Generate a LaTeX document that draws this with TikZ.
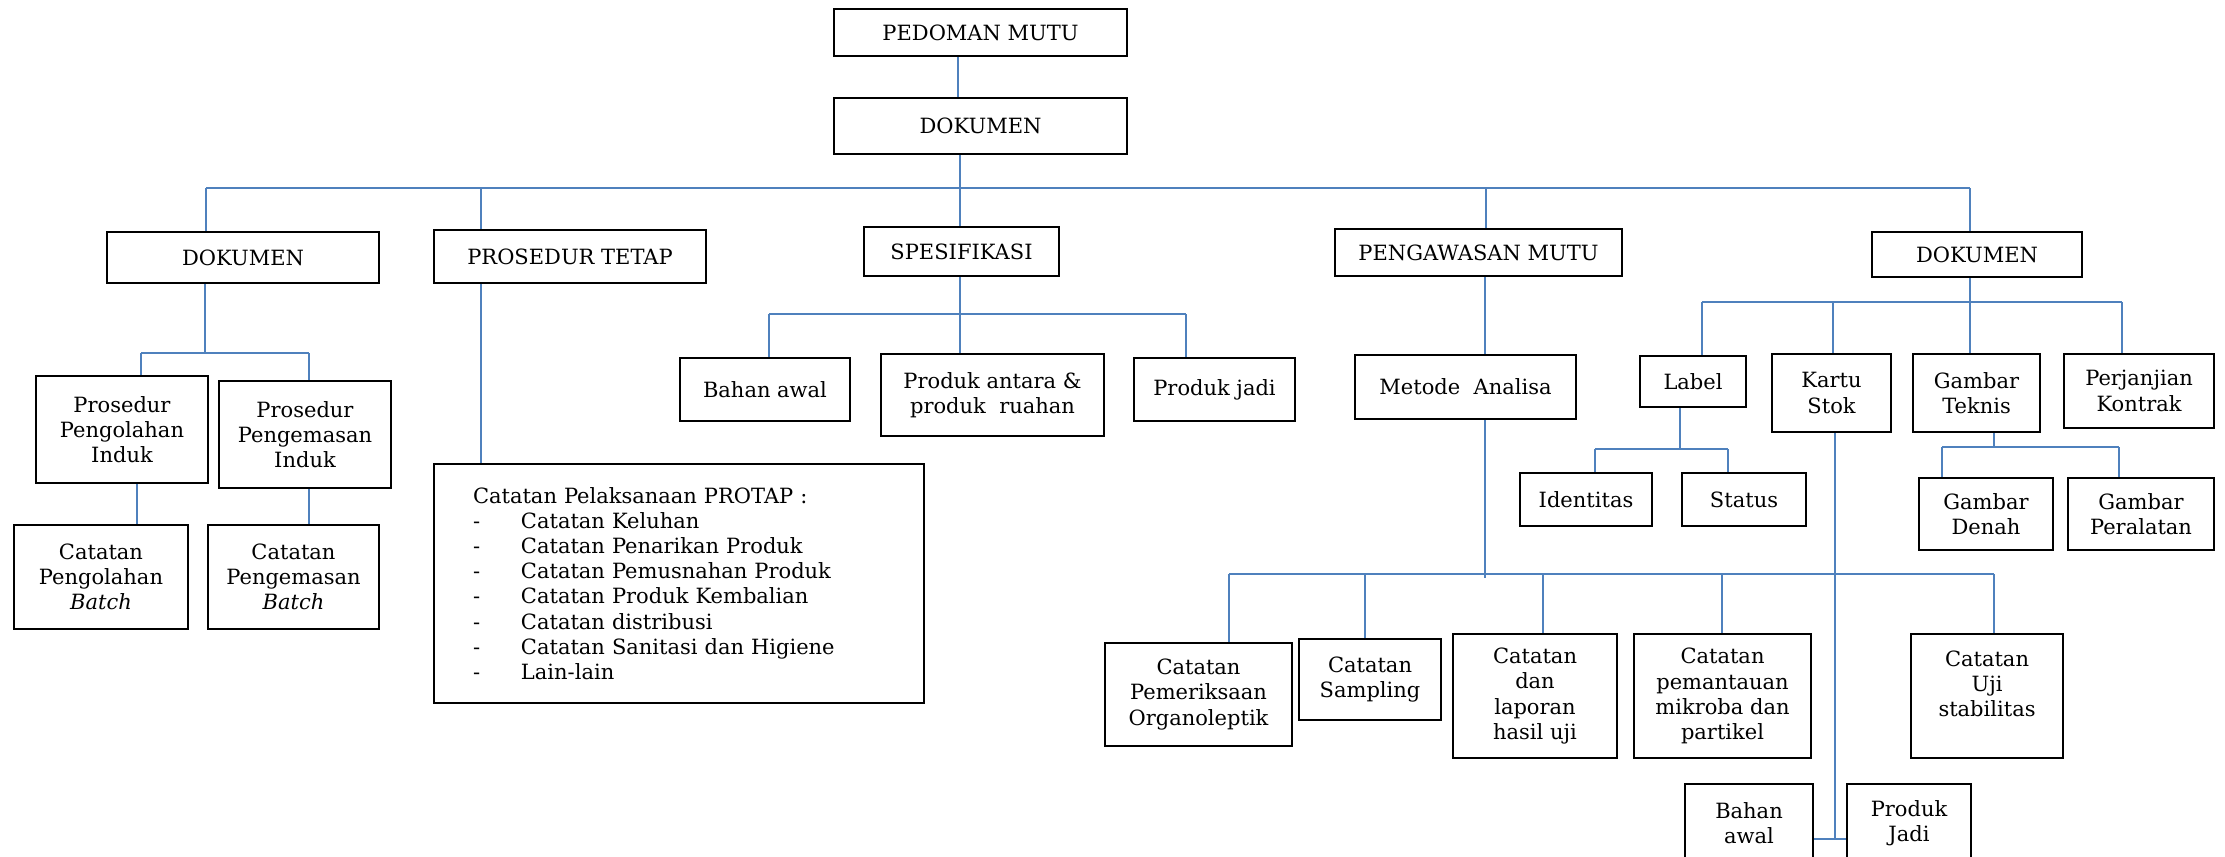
\documentclass[tikz,border=0pt]{standalone}
\usepackage{fontspec}
\setmainfont{DejaVu Serif}
\definecolor{lineblue}{RGB}{79,129,189}

\begin{document}
\begin{tikzpicture}[x=0.5pt,y=-0.5pt,
    box/.style={draw, line width=1.2pt, align=center, inner sep=2pt, font=\fontsize{10.5pt}{12.6pt}\selectfont},
    conn/.style={draw=lineblue, line width=0.9pt},
    bus/.style={draw=lineblue, line width=1.4pt}]
    \useasboundingbox (0,0) rectangle (2225,856);
    \clip (0,0) rectangle (2225,856);

    % top
    \node[box, minimum width=146.5pt, minimum height=23.5pt] (pedoman) at (980.5,32.5) {PEDOMAN MUTU};
    \node[box, minimum width=146.5pt, minimum height=28pt] (dokumen) at (980.5,126) {DOKUMEN};

    % second level
    \node[box, minimum width=136pt, minimum height=25.5pt] (dokA) at (243,257.5) {DOKUMEN};
    \node[box, minimum width=136pt, minimum height=26.5pt] (protap) at (570,256.5) {PROSEDUR TETAP};
    \node[box, minimum width=97.5pt, minimum height=24.5pt] (spes) at (961.5,251.5) {SPESIFIKASI};
    \node[box, minimum width=143.5pt, minimum height=23.5pt] (pengawasan) at (1478.5,252.5) {PENGAWASAN MUTU};
    \node[box, minimum width=105pt, minimum height=22.5pt] (dokB) at (1977,254.5) {DOKUMEN};

    % left branch
    \node[box, minimum width=86pt, minimum height=53.5pt] (prosOlah) at (122,429.5) {Prosedur\\Pengolahan\\Induk};
    \node[box, minimum width=86pt, minimum height=53.5pt] (prosKemas) at (305,434.5) {Prosedur\\Pengemasan\\Induk};
    \node[box, minimum width=87pt, minimum height=52pt] (catOlah) at (101,577) {Catatan\\Pengolahan\\\textit{Batch}};
    \node[box, minimum width=85.5pt, minimum height=52pt] (catKemas) at (293.5,577) {Catatan\\Pengemasan\\\textit{Batch}};
    \node[box, align=left, text width=206pt, inner xsep=19.5pt, minimum height=119.5pt] (pelaksanaan) at (679,583.5)
        {Catatan Pelaksanaan PROTAP :\\
         \makebox[24pt][l]{-}Catatan Keluhan\\
         \makebox[24pt][l]{-}Catatan Penarikan Produk\\
         \makebox[24pt][l]{-}Catatan Pemusnahan Produk\\
         \makebox[24pt][l]{-}Catatan Produk Kembalian\\
         \makebox[24pt][l]{-}Catatan distribusi\\
         \makebox[24pt][l]{-}Catatan Sanitasi dan Higiene\\
         \makebox[24pt][l]{-}Lain-lain};

    % spesifikasi
    \node[box, minimum width=85pt, minimum height=31.5pt] (bahanA) at (765,389.5) {Bahan awal};
    \node[box, minimum width=111.5pt, minimum height=41pt] (produkAntara) at (992.5,395) {Produk antara \&\\produk\ \ ruahan};
    \node[box, minimum width=80.5pt, minimum height=31.5pt] (produkJadi) at (1214.5,389.5) {Produk jadi};

    % pengawasan mutu
    \node[box, minimum width=110.5pt, minimum height=32pt] (metode) at (1465.5,387) {Metode\ \ Analisa};
    \node[box, minimum width=93.5pt, minimum height=51.5pt] (organo) at (1198.5,694.5) {Catatan\\Pemeriksaan\\Organoleptik};
    \node[box, minimum width=71pt, minimum height=40.5pt] (sampling) at (1370,679.5) {Catatan\\Sampling};
    \node[box, minimum width=82pt, minimum height=62pt] (hasilUji) at (1535,696) {Catatan\\dan\\laporan\\hasil uji};
    \node[box, minimum width=88.5pt, minimum height=62pt] (mikroba) at (1722.5,696) {Catatan\\pemantauan\\mikroba dan\\partikel};
    \node[box, minimum width=76pt, minimum height=62pt] (stabilitas) at (1987,696) {Catatan\\Uji\\stabilitas\\\mbox{}};

    % right dokumen
    \node[box, minimum width=53pt, minimum height=25.5pt] (label) at (1693,381.5) {Label};
    \node[box, minimum width=59.5pt, minimum height=39pt] (kartu) at (1831.5,393) {Kartu\\Stok};
    \node[box, minimum width=63.5pt, minimum height=39pt] (teknis) at (1976.5,393) {Gambar\\Teknis};
    \node[box, minimum width=75pt, minimum height=37pt] (perjanjian) at (2139,391) {Perjanjian\\Kontrak};
    \node[box, minimum width=66pt, minimum height=26.5pt] (identitas) at (1586,499.5) {Identitas};
    \node[box, minimum width=62pt, minimum height=26.5pt] (status) at (1744,499.5) {Status};
    \node[box, minimum width=67pt, minimum height=36pt] (denah) at (1986,514) {Gambar\\Denah};
    \node[box, minimum width=73pt, minimum height=36pt] (peralatan) at (2141,514) {Gambar\\Peralatan};
    \node[box, minimum width=64pt, minimum height=39pt] (bahanB) at (1749,823) {Bahan\\awal};
    \node[box, minimum width=62pt, minimum height=39pt] (produkB) at (1909,823) {Produk\\Jadi};

    % connectors
    \coordinate (t0) at (958,0);
    \draw[conn] (pedoman.south -| t0) -- (dokumen.north -| t0);

    \coordinate (m0) at (960,188);
    \coordinate (m1) at (206,188);
    \coordinate (m2) at (481,188);
    \coordinate (m3) at (1486,188);
    \coordinate (m4) at (1970,188);
    \draw[conn] (dokumen.south -| m0) -- (m0);
    \draw[bus] (m1) -- (m4);
    \foreach \t/\n in {m1/dokA, m2/protap, m0/spes, m3/pengawasan, m4/dokB}
        \draw[conn] (\t) -- (\t |- \n.north);

    \coordinate (a0) at (205,353);
    \coordinate (a1) at (141,353);
    \coordinate (a2) at (309,353);
    \coordinate (a3) at (137,0);
    \draw[conn] (dokA.south -| a0) -- (a0);
    \draw[bus] (a1) -- (a2);
    \draw[conn] (a1) -- (a1 |- prosOlah.north);
    \draw[conn] (a2) -- (a2 |- prosKemas.north);
    \draw[conn] (prosOlah.south -| a3) -- (catOlah.north -| a3);
    \draw[conn] (prosKemas.south -| a2) -- (catKemas.north -| a2);
    \draw[conn] (protap.south -| m2) -- (pelaksanaan.north -| m2);

    \coordinate (s1) at (769,314);
    \coordinate (s2) at (960,314);
    \coordinate (s3) at (1186,314);
    \draw[conn] (spes.south -| s2) -- (s2);
    \draw[bus] (s1) -- (s3);
    \foreach \t/\n in {s1/bahanA, s2/produkAntara, s3/produkJadi}
        \draw[conn] (\t) -- (\t |- \n.north);

    \coordinate (p0) at (1485,574);
    \coordinate (q1) at (1229,574);
    \coordinate (q2) at (1365,574);
    \coordinate (q3) at (1543,574);
    \coordinate (q4) at (1722,574);
    \coordinate (q5) at (1994,574);
    \draw[conn] (pengawasan.south -| p0) -- (metode.north -| p0);
    \draw[conn] (metode.south -| p0) -- ([yshift=-2pt]p0);
    \draw[bus] (q1) -- (q5);
    \foreach \t/\n in {q1/organo, q2/sampling, q3/hasilUji, q4/mikroba, q5/stabilitas}
        \draw[conn] (\t) -- (\t |- \n.north);

    \coordinate (d0) at (1970,302);
    \coordinate (d1) at (1702,302);
    \coordinate (d2) at (1833,302);
    \coordinate (d4) at (2122,302);
    \draw[conn] (dokB.south -| d0) -- (d0);
    \draw[bus] (d1) -- (d4);
    \foreach \t/\n in {d1/label, d2/kartu, d0/teknis, d4/perjanjian}
        \draw[conn] (\t) -- (\t |- \n.north);

    \coordinate (l0) at (1680,449);
    \coordinate (l1) at (1595,449);
    \coordinate (l2) at (1728,449);
    \draw[conn] (label.south -| l0) -- (l0);
    \draw[bus] (l1) -- (l2);
    \draw[conn] (l1) -- (l1 |- identitas.north);
    \draw[conn] (l2) -- (l2 |- status.north);

    \coordinate (g0) at (1994,447);
    \coordinate (g1) at (1942,447);
    \coordinate (g2) at (2119,447);
    \draw[conn] (teknis.south -| g0) -- (g0);
    \draw[bus] (g1) -- (g2);
    \draw[conn] (g1) -- (g1 |- denah.north);
    \draw[conn] (g2) -- (g2 |- peralatan.north);

    \coordinate (k0) at (1835,839);
    \draw[conn] (kartu.south -| k0) -- (k0);
    \draw[bus] (bahanB.east |- k0) -- (produkB.west |- k0);
\end{tikzpicture}
\end{document}
